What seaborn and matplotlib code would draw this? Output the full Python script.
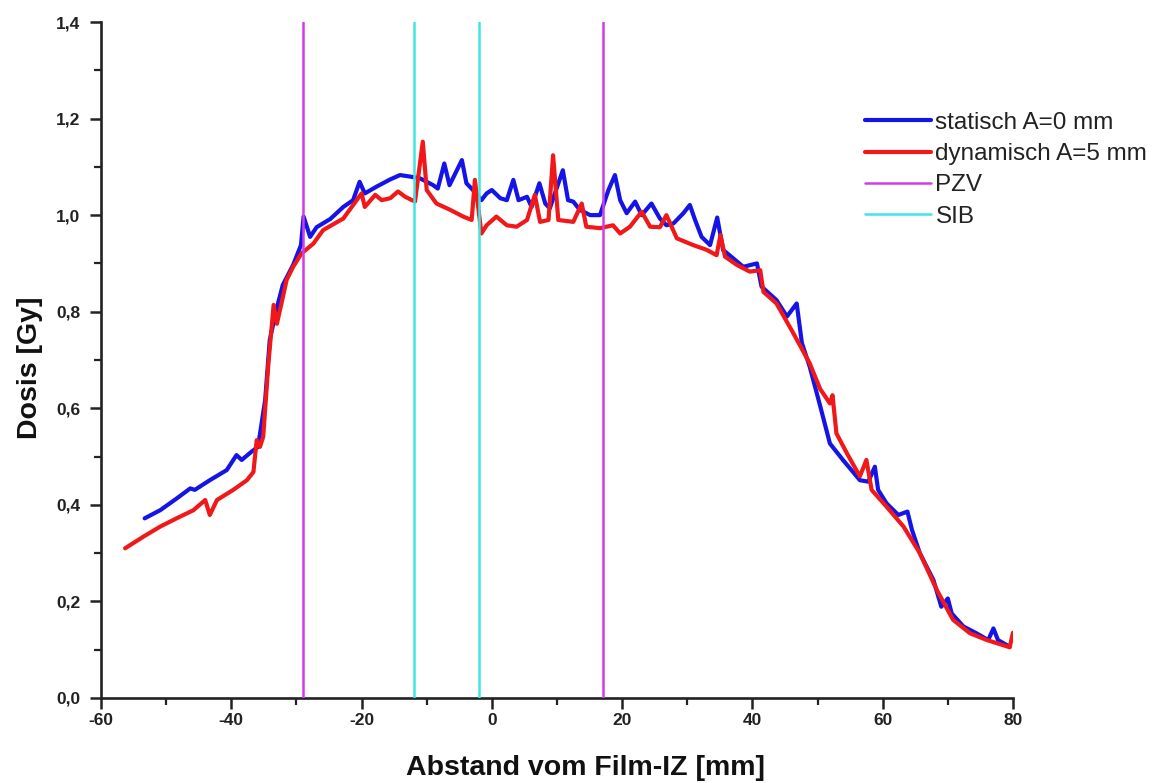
import matplotlib
matplotlib.use("Agg")
import matplotlib.pyplot as plt
from matplotlib.ticker import MultipleLocator, FuncFormatter
import seaborn as sns

# Dose profile, static measurement (amplitude 0 mm)
static_x = [-53.3, -50.9, -48.4, -46.3, -45.6, -43.3, -40.7, -39.2, -38.4, -36.9,
            -35.9, -34.8, -34.1, -33.1, -32.1, -30.5, -29.3, -28.9, -27.9, -26.9,
            -24.8, -22.8, -21.3, -20.3, -19.5, -17.7, -15.6, -14.1, -12.6, -11.0,
            -9.0, -8.3, -7.3, -6.5, -4.6, -3.9, -2.9, -1.6, -0.8, 0.0,
            1.3, 2.3, 3.3, 4.1, 5.4, 6.1, 7.3, 8.2, 8.9, 10.9,
            11.7, 12.5, 13.5, 15.1, 16.6, 17.9, 18.9, 19.7, 20.7, 22.0,
            23.0, 24.5, 25.8, 26.8, 27.9, 29.4, 30.4, 31.2, 32.2, 33.5,
            34.6, 35.5, 37.1, 38.6, 40.7, 41.4, 43.7, 45.3, 46.8, 47.6,
            48.8, 50.4, 51.9, 53.9, 56.5, 57.8, 58.8, 59.3, 60.6, 62.4,
            63.8, 64.5, 65.7, 67.8, 69.0, 70.0, 70.6, 72.4, 74.4, 76.2,
            77.0, 77.7, 79.5]
static_y = [0.372, 0.389, 0.413, 0.434, 0.431, 0.451, 0.472, 0.503, 0.493, 0.510,
            0.520, 0.617, 0.741, 0.803, 0.855, 0.897, 0.938, 0.997, 0.955, 0.975,
            0.992, 1.017, 1.031, 1.069, 1.045, 1.059, 1.074, 1.083, 1.080, 1.076,
            1.062, 1.055, 1.107, 1.062, 1.114, 1.066, 1.052, 1.031, 1.045, 1.052,
            1.035, 1.031, 1.073, 1.031, 1.038, 1.017, 1.066, 1.024, 1.014, 1.093,
            1.031, 1.028, 1.011, 1.000, 1.000, 1.052, 1.083, 1.031, 1.004, 1.028,
            1.000, 1.024, 0.993, 0.979, 0.983, 1.004, 1.021, 0.990, 0.955, 0.938,
            0.995, 0.928, 0.910, 0.893, 0.900, 0.852, 0.824, 0.790, 0.817, 0.735,
            0.686, 0.605, 0.527, 0.493, 0.451, 0.448, 0.479, 0.431, 0.403, 0.379,
            0.386, 0.348, 0.300, 0.244, 0.189, 0.206, 0.175, 0.148, 0.134, 0.120,
            0.144, 0.120, 0.106]

# Dose profile, dynamic measurement (amplitude 5 mm)
dynamic_x = [-56.3, -53.5, -50.9, -48.4, -45.8, -44.0, -43.3, -42.2, -39.7, -37.6,
             -36.6, -36.1, -35.6, -35.1, -34.3, -33.5, -33.0, -32.3, -31.5, -30.5,
             -29.2, -27.4, -25.9, -22.8, -20.0, -19.5, -17.9, -16.9, -15.6, -14.4,
             -13.3, -11.8, -10.6, -10.0, -8.5, -6.4, -4.4, -3.1, -2.6, -1.6,
             -0.8, 0.7, 2.3, 3.8, 5.4, 6.6, 7.4, 8.7, 9.4, 10.2,
             12.5, 13.8, 14.5, 16.6, 18.6, 19.7, 21.2, 23.0, 24.3, 25.8,
             26.8, 28.4, 30.9, 33.0, 34.5, 35.1, 35.8, 37.6, 39.6, 41.2,
             41.7, 43.7, 46.3, 48.8, 50.4, 51.9, 52.3, 52.9, 54.5, 56.5,
             57.5, 58.3, 60.6, 63.2, 65.7, 68.3, 70.8, 73.4, 76.0, 79.5,
             80.0]
dynamic_y = [0.310, 0.334, 0.355, 0.372, 0.389, 0.410, 0.379, 0.410, 0.431, 0.451,
             0.468, 0.534, 0.520, 0.541, 0.693, 0.814, 0.775, 0.817, 0.866, 0.893,
             0.921, 0.941, 0.969, 0.993, 1.045, 1.017, 1.042, 1.031, 1.035, 1.049,
             1.038, 1.028, 1.152, 1.052, 1.024, 1.011, 0.997, 0.990, 1.073, 0.962,
             0.979, 0.997, 0.979, 0.976, 0.990, 1.042, 0.986, 0.990, 1.124, 0.990,
             0.986, 1.024, 0.976, 0.973, 0.979, 0.962, 0.976, 1.007, 0.976, 0.975,
             1.000, 0.952, 0.938, 0.928, 0.917, 0.959, 0.914, 0.897, 0.883, 0.886,
             0.841, 0.817, 0.755, 0.693, 0.640, 0.610, 0.627, 0.548, 0.507, 0.459,
             0.493, 0.431, 0.396, 0.355, 0.300, 0.224, 0.162, 0.134, 0.120, 0.105,
             0.135]

# Volume boundaries (mm)
pzv_bounds = [-29, 17]
sib_bounds = [-12, -2]

series_labels = ["statisch A=0 mm", "dynamisch A=5 mm", "PZV", "SIB"]
x_ticks = [-60, -40, -20, 0, 20, 40, 60, 80]

sns.set_style("ticks")
plt.rcParams["font.family"] = ["Liberation Sans", "DejaVu Sans"]

fig = plt.figure(figsize=(11.57, 7.83), dpi=100)
ax = fig.add_axes([0.0873, 0.1086, 0.7882, 0.8633])

sns.lineplot(x=static_x, y=static_y, ax=ax, color="#1414e6", linewidth=3.0,
             label=series_labels[0], sort=False, estimator=None)
sns.lineplot(x=dynamic_x, y=dynamic_y, ax=ax, color="#f01818", linewidth=3.0,
             label=series_labels[1], sort=False, estimator=None)

for i, xv in enumerate(pzv_bounds):
    ax.axvline(xv, color="#d03ce8", linewidth=1.8,
               label=series_labels[2] if i == 0 else None, zorder=3)
for i, xv in enumerate(sib_bounds):
    ax.axvline(xv, color="#3ee6e6", linewidth=1.8,
               label=series_labels[3] if i == 0 else None, zorder=3)

ax.set_xlim(-60, 80)
ax.set_ylim(0, 1.4)
ax.set_xticks(x_ticks)
ax.xaxis.set_minor_locator(MultipleLocator(10))
ax.yaxis.set_major_locator(MultipleLocator(0.2))
ax.yaxis.set_minor_locator(MultipleLocator(0.1))
ax.yaxis.set_major_formatter(FuncFormatter(lambda v, p: f"{v:.1f}".replace(".", ",")))
ax.xaxis.set_major_formatter(FuncFormatter(lambda v, p: f"{v:.0f}"))

for s in ("top", "right"):
    ax.spines[s].set_visible(False)
for s in ("left", "bottom"):
    ax.spines[s].set_linewidth(1.9)
    ax.spines[s].set_color("#222222")

ax.tick_params(which="major", direction="out", length=8, width=1.8,
               color="#222222", labelsize=12.5)
ax.tick_params(axis="y", which="major", pad=7)
ax.tick_params(axis="x", which="major", pad=3)
ax.tick_params(which="minor", direction="out", length=5, width=1.6, color="#222222")
for lbl in ax.get_xticklabels() + ax.get_yticklabels():
    lbl.set_fontweight("bold")
    lbl.set_color("#222222")

ax.set_xlabel("Abstand vom Film-IZ [mm]", fontsize=20.5, fontweight="bold",
              color="#111111", va="center")
ax.set_ylabel("Dosis [Gy]", fontsize=20.5, fontweight="bold",
              color="#111111", va="center")
ax.xaxis.set_label_coords(0.531, -0.103)
ax.yaxis.set_label_coords(-0.078, 0.488)

leg = ax.legend(loc="upper left", bbox_to_anchor=(0.7476, 0.857),
                bbox_transform=fig.transFigure, frameon=False, fontsize=17.5,
                handlelength=2.7, handletextpad=0.2, labelspacing=0.38,
                borderpad=0, borderaxespad=0)
for t in leg.get_texts():
    t.set_color("#222222")

fig.savefig("out.png", dpi=100, facecolor="white")
